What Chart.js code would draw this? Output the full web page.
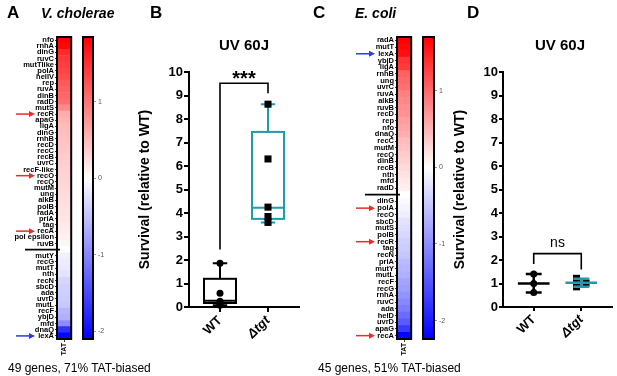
<!DOCTYPE html>
<html><head><meta charset="utf-8">
<script src="https://cdn.jsdelivr.net/npm/chart.js@4.4.1/dist/chart.umd.min.js"></script>
<style>
html,body{margin:0;padding:0;background:#fff;}
#wrap{position:relative;width:617px;height:376px;overflow:hidden;font-family:"Liberation Sans",Arial,sans-serif;color:#000;}
canvas{position:absolute;top:0;}
.t{position:absolute;white-space:nowrap;line-height:1;}
.L{font-weight:bold;font-size:17px;}
.sp{font-weight:bold;font-style:italic;font-size:14px;}
.ti{font-weight:bold;font-size:15px;text-align:center;width:100px;}
.ft{font-size:12px;}
</style></head>
<body><div id="wrap">
<canvas id="hA" width="74" height="376" style="left:0"></canvas>
<canvas id="cA" width="40" height="376" style="left:75px"></canvas>
<canvas id="pB" width="175" height="376" style="left:130px"></canvas>
<canvas id="hC" width="74" height="376" style="left:340px"></canvas>
<canvas id="cC" width="41" height="376" style="left:415px"></canvas>
<canvas id="pD" width="177" height="376" style="left:440px"></canvas>
<div class="t L" style="left:7px;top:4px">A</div>
<div class="t sp" style="left:41px;top:6px">V. cholerae</div>
<div class="t L" style="left:150px;top:4px">B</div>
<div class="t ti" style="left:194px;top:37px">UV 60J</div>
<div class="t L" style="left:313px;top:4px">C</div>
<div class="t sp" style="left:355px;top:6px">E. coli</div>
<div class="t L" style="left:467px;top:4px">D</div>
<div class="t ti" style="left:510px;top:37px">UV 60J</div>
<div class="t ft" style="left:8px;top:362px">49 genes, 71% TAT-biased</div>
<div class="t ft" style="left:318px;top:362px">45 genes, 51% TAT-biased</div>
</div>
<script>
// ---------- DATA ----------
const genesA = ['nfo','rnhA','dinG','ruvC','mutTlike','polA','helIV','rep','ruvA','dinB','radD','mutS','recR','apaG','ligA','dinG','rnhB','recD','recC','recB','uvrC','recF-like','recO','recQ','mutM','ung','alkB','polB','radA','priA','tag','recA','pol epsilon','ruvB','','mutY','recG','mutT','nth','recN','sbcD','ada','uvrD','mutL','recF','ybjD','mfd','dnaQ','lexA'];
const valuesA = [1.85,1.8,1.55,1.45,1.4,1.35,1.3,1.2,1.15,1.1,1.05,0.85,0.6,0.55,0.5,0.48,0.45,0.42,0.4,0.38,0.36,0.34,0.32,0.3,0.28,0.26,0.24,0.22,0.2,0.18,0.16,0.13,0.1,0.06,0,-0.12,-0.15,-0.18,-0.22,-0.35,-0.38,-0.4,-0.42,-0.45,-0.6,-0.65,-0.95,-1.7,-2.05];
const rangeA = [-2.1, 1.85];
const redArrowsA = ['recR','recO','recA'];
const blueArrowsA = ['lexA'];

const genesC = ['radA','mutT','lexA','ybjD','ligA','rnhB','ung','uvrC','ruvA','alkB','ruvB','recD','rep','nfo','dnaQ','recC','mutM','recQ','dinB','recB','nth','mfd','radD','','dinG','polA','recO','sbcD','mutS','polB','recR','tag','recN','priA','mutY','mutL','recF','recG','rnhA','ruvC','ada','helD','uvrD','apaG','recA'];
const valuesC = [1.7,1.65,1.6,1.35,1.3,1.05,1.0,0.95,0.85,0.8,0.75,0.72,0.65,0.6,0.55,0.45,0.4,0.35,0.3,0.25,0.2,0.15,0.1,0,-0.05,-0.1,-0.15,-0.25,-0.3,-0.35,-0.4,-0.45,-0.5,-0.6,-0.65,-0.7,-0.8,-0.85,-0.95,-1.05,-1.15,-1.3,-1.45,-1.75,-2.2];
const rangeC = [-2.24, 1.7];
const redArrowsC = ['polA','recR','recA'];
const blueArrowsC = ['lexA'];

const colorbarTicks = [1, 0, -1, -2];
const heatmapColumn = ['TAT'];

const groupLabels = ['WT', 'Δtgt'];
// Panel B: survival points and box statistics [min, q1, median, q3, max]
const survB_WT = [1.86, 0.58, 0.25, 0.12, 0.07];
const survB_tgt = [8.63, 6.3, 4.25, 3.85, 3.6];
const boxB_WT = [0.07, 0.17, 0.27, 1.2, 1.86];
const boxB_tgt = [3.6, 3.75, 4.22, 7.45, 8.63];
const sigB = {text:'***', leftLow:2.45, top:9.52, rightLow:9.1, textY:9.45};
// Panel D: points, mean and SD
const survD_WT = [1.4, 1.0, 0.62];
const survD_WT_x = [1, 1, 1];
const survD_tgt = [1.22, 1.02, 0.86];
const survD_tgt_x = [1.9, 2.1, 1.9];
const meanSdD_WT = [1.0, 0.62, 1.4];   // mean, low, high
const meanSdD_tgt = [1.03, 0.86, 1.2];
const sigD = {text:'ns', leftLow:1.83, top:2.27, rightLow:1.6, textY:2.55};
const yTicksSurv = [0,1,2,3,4,5,6,7,8,9,10];

// ---------- HELPERS ----------
const FONT = '"Liberation Sans", Arial, sans-serif';
const BLACK = '#000';
const TEAL = '#1f9bad';
const RED = '#ee2a24';
const BLUE = '#2b3bdf';

function heatColor(v, lo, hi){
  if (v >= 0){ const t = Math.min(1, v/hi); const c = Math.round(255*(1-t)); return `rgb(255,${c},${c})`; }
  const t = Math.min(1, v/lo); const c = Math.round(255*(1-t)); return `rgb(${c},${c},255)`;
}

const framePlugin = {
  id:'frame',
  afterDraw(chart){
    const {ctx, chartArea:a} = chart;
    ctx.save(); ctx.strokeStyle = BLACK; ctx.lineWidth = 2;
    ctx.strokeRect(a.left, a.top, a.right-a.left, a.bottom-a.top);
    ctx.restore();
  }
};

function arrow(ctx, x1, x2, y, col){
  ctx.save(); ctx.strokeStyle = col; ctx.fillStyle = col; ctx.lineWidth = 1.5;
  ctx.beginPath(); ctx.moveTo(x1, y); ctx.lineTo(x2-5, y); ctx.stroke();
  ctx.beginPath(); ctx.moveTo(x2, y); ctx.lineTo(x2-6, y-3); ctx.lineTo(x2-6, y+3); ctx.closePath(); ctx.fill();
  ctx.restore();
}

function makeHeatmap(id, genes, vals, range, reds, blues){
  const sepIdx = genes.indexOf('');
  const deco = {
    id:'deco',
    afterDraw(chart){
      const {ctx} = chart; const y = chart.scales.y;
      const py = y.getPixelForValue(sepIdx);
      ctx.save(); ctx.strokeStyle = BLACK; ctx.lineWidth = 1.8;
      ctx.beginPath(); ctx.moveTo(25, py); ctx.lineTo(60, py); ctx.stroke(); ctx.restore();
      reds.forEach(g => arrow(ctx, 16, 35, y.getPixelForValue(genes.indexOf(g)), RED));
      blues.forEach(g => arrow(ctx, 16, 35, y.getPixelForValue(genes.lastIndexOf(g)), BLUE));
    }
  };
  new Chart(document.getElementById(id), {
    type:'bar',
    data:{labels:genes, datasets:[{data:genes.map(()=>1), backgroundColor:vals.map(v=>heatColor(v, range[0], range[1])), borderWidth:0, barPercentage:1, categoryPercentage:1}]},
    options:{
      indexAxis:'y', responsive:false, animation:false, events:[], devicePixelRatio:1,
      layout:{padding:{top:37, right:1, bottom:0, left:0}},
      plugins:{legend:{display:false}, tooltip:{enabled:false}},
      scales:{
        y:{type:'category', grid:{drawOnChartArea:false, offset:false, tickLength:2, color:BLACK, lineWidth:0.8}, border:{display:false},
           ticks:{autoSkip:false, padding:1, color:BLACK, font:{family:FONT, size:7.5, weight:'bold', lineHeight:1}},
           afterFit(s){ s.width = 57; }},
        x:{type:'linear', min:0, max:1, grid:{drawOnChartArea:false, tickLength:3, color:BLACK, lineWidth:0.8}, border:{display:false},
           afterBuildTicks(s){ s.ticks = [{value:0.5}]; },
           ticks:{callback:()=>heatmapColumn[0], minRotation:90, maxRotation:90, padding:1, color:BLACK, font:{family:FONT, size:7, weight:'bold'}},
           afterFit(s){ s.height = 37; }}
      }
    },
    plugins:[framePlugin, deco]
  });
}

function makeColorbar(id, range){
  new Chart(document.getElementById(id), {
    type:'bar',
    data:{labels:['scale'], datasets:[{data:[[range[0], range[1]]], borderWidth:0, barPercentage:1, categoryPercentage:1,
      backgroundColor(ctx){
        const {chart} = ctx; const a = chart.chartArea; if (!a) return '#fff';
        const g = chart.ctx.createLinearGradient(0, a.bottom, 0, a.top);
        g.addColorStop(0, 'rgb(0,0,255)');
        g.addColorStop((0-range[0])/(range[1]-range[0]), '#fff');
        g.addColorStop(1, 'rgb(255,0,0)');
        return g;
      }}]},
    options:{
      responsive:false, animation:false, events:[], devicePixelRatio:1,
      layout:{padding:{top:37, bottom:37, left:8, right:0}},
      plugins:{legend:{display:false}, tooltip:{enabled:false}},
      scales:{
        x:{display:false},
        y:{position:'right', min:range[0], max:range[1], grid:{drawOnChartArea:false, tickLength:3, color:'#777', lineWidth:0.8}, border:{display:false},
           afterBuildTicks(s){ s.ticks = colorbarTicks.map(v=>({value:v})); },
           ticks:{padding:2, color:'#555', font:{family:FONT, size:7}},
           afterFit(s){ s.width = 22; }}
      }
    },
    plugins:[framePlugin]
  });
}

function survAxes(yWidth, titlePad, tickLen){
  return {
    x:{type:'linear', min:0.354, max:2.646,
       grid:{drawOnChartArea:false, tickLength:tickLen, color:BLACK, lineWidth:2}, border:{color:BLACK, width:2},
       afterBuildTicks(s){ s.ticks = [{value:1},{value:2}]; },
       ticks:{callback:(v)=>groupLabels[Math.round(v)-1], minRotation:45, maxRotation:45, padding:1, color:BLACK,
              font(c){ return {family:FONT, size:13, weight:'bold', style:(c.tick && c.tick.value===2)?'italic':'normal'}; }},
       afterFit(s){ s.height = 69; }},
    y:{min:0, max:10,
       grid:{drawOnChartArea:false, tickLength:tickLen, color:BLACK, lineWidth:2}, border:{color:BLACK, width:2},
       afterBuildTicks(s){ s.ticks = yTicksSurv.map(v=>({value:v})); },
       ticks:{padding:1, color:BLACK, font:{family:FONT, size:13, weight:'bold'}},
       title:{display:true, text:'Survival (relative to WT)', color:BLACK, font:{family:FONT, size:14, weight:'bold'}, padding:{top:titlePad, bottom:0}},
       afterFit(s){ s.width = yWidth; }}
  };
}

function drawBracket(chart, sig){
  const {ctx, scales:{x, y}} = chart;
  const x1 = x.getPixelForValue(1), x2 = x.getPixelForValue(2);
  ctx.save(); ctx.strokeStyle = BLACK; ctx.lineWidth = 1.6;
  ctx.beginPath();
  ctx.moveTo(x1, y.getPixelForValue(sig.leftLow)); ctx.lineTo(x1, y.getPixelForValue(sig.top));
  ctx.lineTo(x2, y.getPixelForValue(sig.top)); ctx.lineTo(x2, y.getPixelForValue(sig.rightLow));
  ctx.stroke();
  ctx.fillStyle = BLACK; ctx.textAlign = 'center'; ctx.textBaseline = 'alphabetic';
  ctx.font = sig.text === 'ns' ? `14px ${FONT}` : `bold 20px ${FONT}`;
  ctx.fillText(sig.text, (x1+x2)/2, y.getPixelForValue(sig.textY));
  ctx.restore();
}

// ---------- PANEL A / C ----------
makeHeatmap('hA', genesA, valuesA, rangeA, redArrowsA, blueArrowsA);
makeColorbar('cA', rangeA);
makeHeatmap('hC', genesC, valuesC, rangeC, redArrowsC, blueArrowsC);
makeColorbar('cC', rangeC);

// ---------- PANEL B ----------
const boxPlugin = {
  id:'boxes',
  beforeDatasetsDraw(chart){
    const {ctx, scales:{x, y}} = chart;
    [[1, boxB_WT, BLACK], [2, boxB_tgt, TEAL]].forEach(([g, b, col]) => {
      const xl = x.getPixelForValue(g-0.333), xr = x.getPixelForValue(g+0.333), xc = x.getPixelForValue(g);
      const cl = x.getPixelForValue(g-0.15), cr = x.getPixelForValue(g+0.15);
      const p = b.map(v => y.getPixelForValue(v));
      ctx.save(); ctx.strokeStyle = col; ctx.lineWidth = 2;
      ctx.beginPath();
      ctx.moveTo(xc, p[0]); ctx.lineTo(xc, p[1]);
      ctx.moveTo(xc, p[3]); ctx.lineTo(xc, p[4]);
      ctx.moveTo(cl, p[0]); ctx.lineTo(cr, p[0]);
      ctx.moveTo(cl, p[4]); ctx.lineTo(cr, p[4]);
      ctx.moveTo(xl, p[2]); ctx.lineTo(xr, p[2]);
      ctx.stroke();
      ctx.strokeRect(xl, p[3], xr-xl, p[1]-p[3]);
      ctx.restore();
    });
  },
  afterDatasetsDraw(chart){ drawBracket(chart, sigB); }
};
new Chart(document.getElementById('pB'), {
  type:'scatter',
  data:{datasets:[
    {data:survB_WT.map(v=>({x:1, y:v})), pointStyle:'circle', pointRadius:3.5, backgroundColor:BLACK, borderColor:BLACK, borderWidth:0, clip:false},
    {data:survB_tgt.map(v=>({x:2, y:v})), pointStyle:'rect', pointRadius:5, backgroundColor:BLACK, borderColor:BLACK, borderWidth:0, clip:false}
  ]},
  options:{responsive:false, animation:false, events:[], devicePixelRatio:1,
    layout:{padding:{top:72, right:6, bottom:0, left:0}},
    plugins:{legend:{display:false}, tooltip:{enabled:false}},
    scales:survAxes(59, 7, 5)},
  plugins:[boxPlugin]
});

// ---------- PANEL D ----------
const meanPlugin = {
  id:'meansd',
  afterDatasetsDraw(chart){
    const {ctx, scales:{x, y}} = chart;
    [[1, meanSdD_WT, BLACK], [2, meanSdD_tgt, TEAL]].forEach(([g, m, col]) => {
      const xl = x.getPixelForValue(g-0.333), xr = x.getPixelForValue(g+0.333), xc = x.getPixelForValue(g);
      const cl = x.getPixelForValue(g-0.167), cr = x.getPixelForValue(g+0.167);
      ctx.save(); ctx.strokeStyle = col; ctx.lineWidth = 2.5;
      ctx.beginPath();
      ctx.moveTo(xl, y.getPixelForValue(m[0])); ctx.lineTo(xr, y.getPixelForValue(m[0]));
      ctx.moveTo(xc, y.getPixelForValue(m[1])); ctx.lineTo(xc, y.getPixelForValue(m[2]));
      ctx.moveTo(cl, y.getPixelForValue(m[1])); ctx.lineTo(cr, y.getPixelForValue(m[1]));
      ctx.moveTo(cl, y.getPixelForValue(m[2])); ctx.lineTo(cr, y.getPixelForValue(m[2]));
      ctx.stroke(); ctx.restore();
    });
    drawBracket(chart, sigD);
  }
};
new Chart(document.getElementById('pD'), {
  type:'scatter',
  data:{datasets:[
    {data:survD_WT.map((v,i)=>({x:survD_WT_x[i], y:v})), pointStyle:'circle', pointRadius:3.5, backgroundColor:BLACK, borderWidth:0, clip:false},
    {data:survD_tgt.map((v,i)=>({x:survD_tgt_x[i], y:v})), pointStyle:'rect', pointRadius:5, backgroundColor:BLACK, borderWidth:0, clip:false}
  ]},
  options:{responsive:false, animation:false, events:[], devicePixelRatio:1,
    layout:{padding:{top:72, right:3, bottom:0, left:0}},
    plugins:{legend:{display:false}, tooltip:{enabled:false}},
    scales:survAxes(63, 12, 4)},
  plugins:[meanPlugin]
});
</script>
</body></html>
